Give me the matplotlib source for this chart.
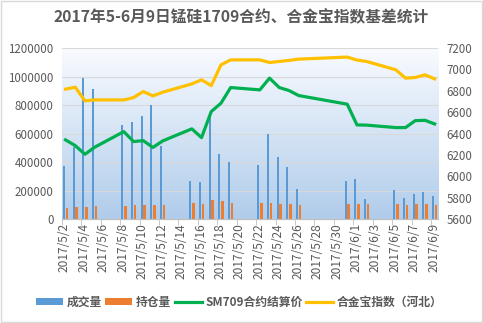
import numpy as np
import pandas as pd
import matplotlib
matplotlib.use("Agg")
import matplotlib.pyplot as plt
from matplotlib.patches import Rectangle
from matplotlib.ticker import StrMethodFormatter

plt.rcParams['font.family'] = ['Noto Sans CJK SC', 'DejaVu Sans']

# 交易日
trade_dates = ["2017-05-02", "2017-05-03", "2017-05-04", "2017-05-05",
               "2017-05-08", "2017-05-09", "2017-05-10", "2017-05-11", "2017-05-12",
               "2017-05-15", "2017-05-16", "2017-05-17", "2017-05-18", "2017-05-19",
               "2017-05-22", "2017-05-23", "2017-05-24", "2017-05-25", "2017-05-26",
               "2017-05-31", "2017-06-01", "2017-06-02",
               "2017-06-05", "2017-06-06", "2017-06-07", "2017-06-08", "2017-06-09"]

volume = [370000, 505000, 990000, 912000,
          660000, 680000, 723000, 800000, 514000,
          269000, 262000, 742000, 458000, 402000,
          379000, 596000, 435000, 365000, 210000,
          269000, 281000, 143000,
          204000, 150000, 175000, 192000, 164000]

open_interest = [79000, 81000, 81000, 93000,
                 93000, 100000, 100000, 100000, 98000,
                 114000, 107000, 135000, 128000, 114000,
                 114000, 114000, 107000, 107000, 100000,
                 105000, 105000, 105000,
                 105000, 98000, 105000, 105000, 98000]

sm709_price = [6341, 6287, 6206, 6272,
               6418, 6325, 6334, 6270, 6331,
               6444, 6362, 6606, 6684, 6831,
               6809, 6919, 6831, 6803, 6756,
               6675, 6481, 6479,
               6456, 6456, 6521, 6524, 6490]

hejinbao_index = [6816, 6834, 6706, 6715,
                  6715, 6737, 6793, 6753, 6787,
                  6865, 6903, 6849, 7043, 7090,
                  7090, 7065, 7075, 7085, 7097,
                  7116, 7088, 7075,
                  6997, 6919, 6925, 6950, 6912]

start = pd.Timestamp("2017-05-02")
end = pd.Timestamp("2017-06-09")
x = np.array([(pd.Timestamp(d) - start).days for d in trade_dates], dtype=float)

label_days = pd.date_range(start, end, freq="2D")
tick_pos = np.array([(d - start).days for d in label_days], dtype=float)
tick_labels = [f"{d.year}/{d.month}/{d.day}" for d in label_days]

txt = "#595959"
fig = plt.figure(figsize=(4.83, 3.23), dpi=100)
ax = fig.add_axes([0.128, 0.322, 0.779, 0.529])
ax2 = ax.twinx()

# 背景渐变
grad = np.linspace(0, 1, 256).reshape(-1, 1)
top = np.array([0.975, 0.985, 1.0])
bot = np.array([0.69, 0.80, 0.92])
img = top + (bot - top) * grad[..., None]
ax.imshow(img, extent=[0, 1, 0, 1], transform=ax.transAxes, aspect="auto", zorder=0)

ax.bar(x - 0.17, volume, width=0.2, color="#5b9bd5", zorder=2, label="成交量")
ax.bar(x + 0.15, open_interest, width=0.28, color="#ed7d31", zorder=2, label="持仓量")
ax2.plot(x, sm709_price, color="#00b050", lw=2.3, label="SM709合约结算价")
ax2.plot(x, hejinbao_index, color="#ffc000", lw=2.3, label="合金宝指数（河北）")

ax.set_xlim(-0.38, 38.35)
ax.set_ylim(0, 1200000)
ax2.set_ylim(5600, 7200)
ax.set_yticks(np.arange(0, 1200001, 200000))
ax2.set_yticks(np.arange(5600, 7201, 200))
ax.yaxis.set_major_formatter(StrMethodFormatter("{x:.0f}"))
ax2.yaxis.set_major_formatter(StrMethodFormatter("{x:.0f}"))
ax.yaxis.grid(True, color="#d9d9d9", lw=0.8, zorder=1)
ax.set_axisbelow(True)

ax.set_xticks(tick_pos - 0.1)
ax.set_xticklabels(tick_labels, rotation=90)
ax.set_xticks(tick_pos - 0.38, minor=True)
ax.tick_params(axis="x", which="major", length=0, pad=3, labelsize=8.6, colors=txt)
ax.tick_params(axis="x", which="minor", length=4, color="#bfbfbf")
ax.tick_params(axis="y", length=0, labelsize=8.3, colors=txt, pad=6)
ax2.tick_params(axis="y", length=0, labelsize=8.3, colors=txt, pad=6)

for a in (ax, ax2):
    for s in ("top", "left", "right"):
        a.spines[s].set_visible(False)
    a.spines["bottom"].set_color("#bfbfbf")

fig.text(0.5, 0.947, "2017年5-6月9日锰硅1709合约、合金宝指数基差统计",
         ha="center", va="center", fontsize=11.3, fontweight="bold", color=txt)

h1, l1 = ax.get_legend_handles_labels()
h2, l2 = ax2.get_legend_handles_labels()
leg = fig.legend(h1 + h2, l1 + l2, loc="center", bbox_to_anchor=(0.495, 0.065),
                 ncol=4, frameon=False, handlelength=2.3, handleheight=0.6,
                 handletextpad=0.3, columnspacing=0.3,
                 prop={"size": 8.5, "weight": "bold"})
for t in leg.get_texts():
    t.set_color(txt)

fig.patches.append(Rectangle((0.002, 0.003), 0.995, 0.993, transform=fig.transFigure,
                             fill=False, edgecolor="#d9d9d9", lw=1))

fig.savefig("out.png", dpi=100)
